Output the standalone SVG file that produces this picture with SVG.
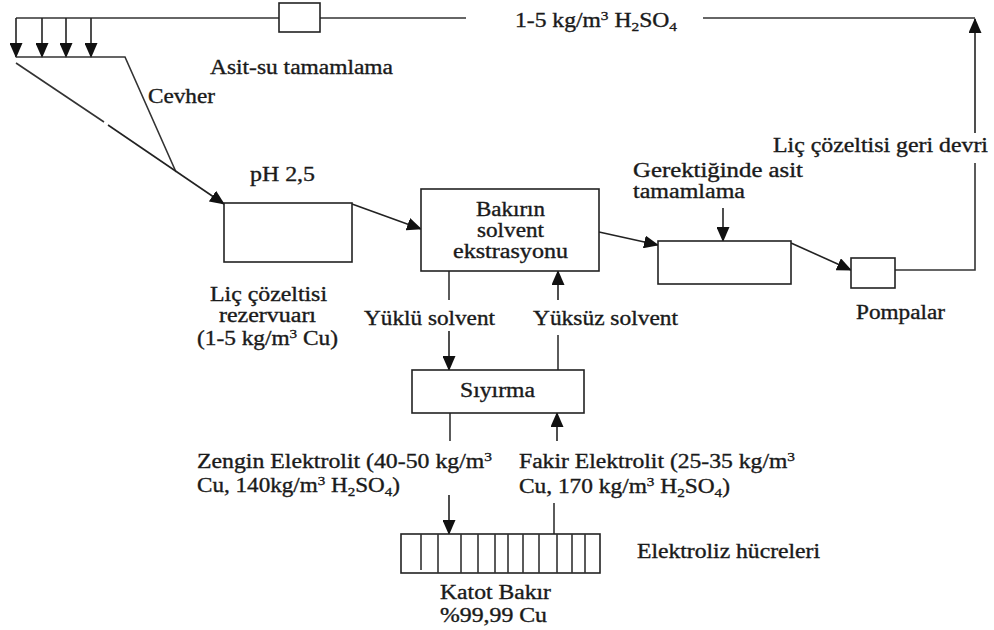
<svg xmlns="http://www.w3.org/2000/svg" width="994" height="630" viewBox="0 0 994 630">
<defs>
<marker id="ah" markerUnits="userSpaceOnUse" markerWidth="15" markerHeight="13" viewBox="0 0 15 13" refX="14" refY="6.5" orient="auto">
<path d="M0,0 L15,6.5 L0,13 Z" fill="#111"/>
</marker>
<style>
.ln{stroke:#333;stroke-width:1.6;fill:none}
.bx{stroke:#222;stroke-width:1.6;fill:#fff}
.ar{stroke:#222;stroke-width:1.6;fill:none;marker-end:url(#ah)}
text{font-family:'Liberation Serif',serif;font-size:20px;fill:#1a1a1a;stroke:#1a1a1a;stroke-width:0.35px}
.sb{font-size:13px}
</style>
</defs>
<rect width="994" height="630" fill="#fff"/>

<g id="connectors">
<polyline class="ln" points="16,18 279,18"/>
<polyline class="ln" points="320,18 466,18"/>
<polyline class="ln" points="703,18 975,18"/>
<line class="ar" x1="975" y1="133" x2="975" y2="19"/>
<polyline class="ln" points="895,270 975,270 975,163"/>
<line class="ar" x1="16" y1="18" x2="16" y2="57"/>
<line class="ar" x1="42" y1="18" x2="42" y2="57"/>
<line class="ar" x1="66" y1="18" x2="66" y2="57"/>
<line class="ar" x1="91" y1="18" x2="91" y2="57"/>
<polyline class="ln" points="16,57 125,57 176,172"/>
<line class="ln" x1="16" y1="63" x2="104" y2="122"/>
<line class="ar" x1="108" y1="125" x2="224" y2="204"/>
<line class="ar" x1="352" y1="204" x2="421" y2="229"/>
<line class="ar" x1="599" y1="232" x2="658" y2="245"/>
<line class="ar" x1="723" y1="208" x2="723" y2="241"/>
<line class="ar" x1="791" y1="243" x2="851" y2="270"/>
<line class="ln" x1="449" y1="271" x2="449" y2="300"/>
<line class="ar" x1="449" y1="331" x2="449" y2="370"/>
<line class="ar" x1="558" y1="300" x2="558" y2="271"/>
<line class="ln" x1="558" y1="335" x2="558" y2="370"/>
<line class="ln" x1="450" y1="413" x2="450" y2="441"/>
<line class="ar" x1="557" y1="441" x2="557" y2="413"/>
<line class="ar" x1="449" y1="495" x2="449" y2="534"/>
<line class="ln" x1="554" y1="503" x2="554" y2="534"/>
</g>

<g id="acid-box"><rect class="bx" x="279" y="3" width="41" height="29"/></g>
<g id="acid-label"><text x="515" y="27" textLength="162" lengthAdjust="spacingAndGlyphs">1-5 kg/m<tspan class="sb" dy="-7">3</tspan><tspan dy="7"> H</tspan><tspan class="sb" dy="4">2</tspan><tspan dy="-4">SO</tspan><tspan class="sb" dy="4">4</tspan></text></g>
<g id="asit-su"><text x="210" y="74" textLength="183" lengthAdjust="spacingAndGlyphs">Asit-su tamamlama</text></g>
<g id="cevher"><text x="148" y="103" textLength="67" lengthAdjust="spacingAndGlyphs">Cevher</text></g>
<g id="recycle-label"><text x="773" y="152" textLength="215" lengthAdjust="spacingAndGlyphs">Liç çözeltisi geri devri</text></g>

<g id="reservoir">
<rect class="bx" x="224" y="203" width="128" height="59"/>
<text x="250" y="181" textLength="65" lengthAdjust="spacingAndGlyphs">pH 2,5</text>
<text x="210" y="301" textLength="117" lengthAdjust="spacingAndGlyphs">Liç çözeltisi</text>
<text x="219" y="322" textLength="97" lengthAdjust="spacingAndGlyphs">rezervuarı</text>
<text x="197" y="345" textLength="141" lengthAdjust="spacingAndGlyphs">(1-5 kg/m<tspan class="sb" dy="-7">3</tspan><tspan dy="7"> Cu)</tspan></text>
</g>

<g id="extraction">
<rect class="bx" x="421" y="189" width="178" height="82"/>
<text x="476" y="216" textLength="69" lengthAdjust="spacingAndGlyphs">Bakırın</text>
<text x="477" y="237" textLength="67" lengthAdjust="spacingAndGlyphs">solvent</text>
<text x="453" y="258" textLength="115" lengthAdjust="spacingAndGlyphs">ekstrasyonu</text>
</g>

<g id="acid-makeup">
<rect class="bx" x="658" y="241" width="133" height="43"/>
<text x="633" y="177" textLength="170" lengthAdjust="spacingAndGlyphs">Gerektiğinde asit</text>
<text x="633" y="198" textLength="112" lengthAdjust="spacingAndGlyphs">tamamlama</text>
</g>

<g id="pumps">
<rect class="bx" x="851" y="258" width="44" height="30"/>
<text x="856" y="319" textLength="89" lengthAdjust="spacingAndGlyphs">Pompalar</text>
</g>

<g id="solvent-labels">
<text x="364" y="325" textLength="131" lengthAdjust="spacingAndGlyphs">Yüklü solvent</text>
<text x="533" y="325" textLength="145" lengthAdjust="spacingAndGlyphs">Yüksüz solvent</text>
</g>

<g id="stripping">
<rect class="bx" x="412" y="370" width="172" height="43"/>
<text x="460" y="397" textLength="75" lengthAdjust="spacingAndGlyphs">Sıyırma</text>
</g>

<g id="electrolyte-labels">
<text x="197" y="468" textLength="295" lengthAdjust="spacingAndGlyphs">Zengin Elektrolit (40-50 kg/m<tspan class="sb" dy="-7">3</tspan></text>
<text x="197" y="492" textLength="203" lengthAdjust="spacingAndGlyphs">Cu, 140kg/m<tspan class="sb" dy="-7">3</tspan><tspan dy="7"> H</tspan><tspan class="sb" dy="4">2</tspan><tspan dy="-4">SO</tspan><tspan class="sb" dy="4">4</tspan><tspan dy="-4">)</tspan></text>
<text x="519" y="468" textLength="276" lengthAdjust="spacingAndGlyphs">Fakir Elektrolit (25-35 kg/m<tspan class="sb" dy="-7">3</tspan></text>
<text x="519" y="493" textLength="211" lengthAdjust="spacingAndGlyphs">Cu, 170 kg/m<tspan class="sb" dy="-7">3</tspan><tspan dy="7"> H</tspan><tspan class="sb" dy="4">2</tspan><tspan dy="-4">SO</tspan><tspan class="sb" dy="4">4</tspan><tspan dy="-4">)</tspan></text>
</g>

<g id="cells">
<rect class="bx" x="401" y="534" width="199" height="39"/>
<path class="ln" d="M421,534V570 M438,534V573 M461,534V573 M478,534V573 M495,534V573 M508,534V573 M523,534V573 M539,534V573 M557,534V573 M572,534V573 M585,534V573"/>
<text x="637" y="558" textLength="183" lengthAdjust="spacingAndGlyphs">Elektroliz hücreleri</text>
<text x="440" y="599" textLength="111" lengthAdjust="spacingAndGlyphs">Katot Bakır</text>
<text x="440" y="622" textLength="107" lengthAdjust="spacingAndGlyphs">%99,99 Cu</text>
</g>
</svg>
